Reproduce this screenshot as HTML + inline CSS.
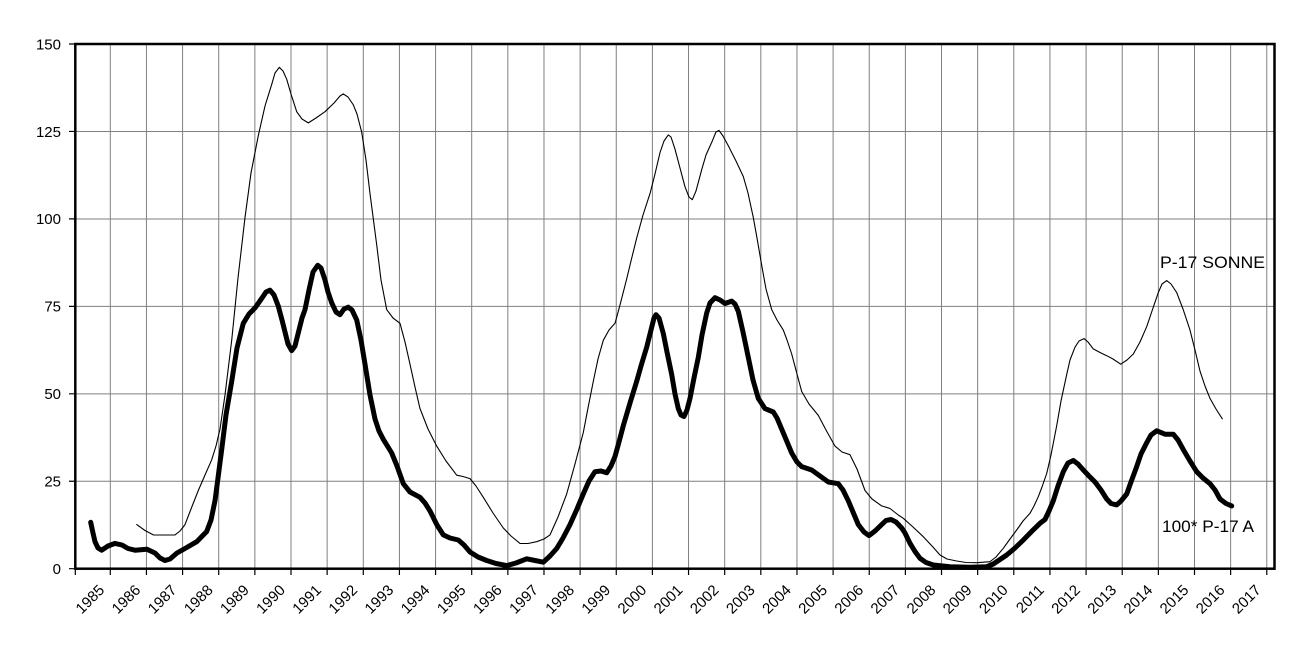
<!DOCTYPE html>
<html><head><meta charset="utf-8"><style>
html,body{margin:0;padding:0;background:#fff;}
svg{display:block;}
text{font-family:"Liberation Sans",Arial,sans-serif;fill:#000;}
</style></head><body>
<svg width="1294" height="663" viewBox="0 0 1294 663" xmlns="http://www.w3.org/2000/svg">
<rect x="0" y="0" width="1294" height="663" fill="#fff"/>
<line x1="109.8" y1="306.35" x2="1267.4" y2="306.35" stroke="#808080" stroke-width="524.7" stroke-dasharray="1 35.14"/>
<line x1="674.75" y1="131" x2="674.75" y2="482" stroke="#808080" stroke-width="1199.5" stroke-dasharray="1 86.45"/>
<polyline fill="none" stroke="#000" stroke-width="1.1" stroke-linejoin="round" stroke-linecap="round" points="136.7,524.6 145,530.5 153.3,534.9 165,535 175,534.9 180,531 185,524.6 191,509 198.3,490.5 205,475 211.7,459.8 216,446 220,429.1 225,395 231.7,340.3 238,278 245,217.5 251,173 258.3,135.6 265,106 271.7,84.4 275,73 279.3,67.3 283,71 286.7,79.2 291,94 296.7,111.7 302,119 308.3,122.9 316,118 325,111.7 334,103 340,96 343.3,93.9 348,97 353.3,104.8 357,114 361.7,132.2 366,160 370,193.6 376.7,244.8 381,280 386.7,309.6 393,318 400,323.3 405,342 410,364.2 415,387 420,408.6 428,429 436.7,446.1 446,461 456.7,475.2 463,476.5 470,478.6 476,486 483.3,497.3 493,513 503.3,528 511,536 520,543.4 528,543.5 536.7,541.7 544,539 550,534.9 558,517 566.7,493.9 575,464 583.3,432.5 588,408 593.3,381.3 598,359 603.3,340.3 609,330 615,323.3 620,305 626.7,278.9 631,261 636.7,238 643,215 650,193.6 655,174 660,152.6 664,141 668.3,134.9 671,137 675,149.2 680,168 685,186.8 689,197 692.3,199.7 696,191 701.7,169.7 706,155 711.7,142.4 716,132 719,130.4 723,136 728.3,145.8 736,161 743.3,176.5 748,193 753.3,217.5 757,238 761.7,265.3 766,289 771.7,309.6 777,320 783.3,330.1 787,340 791.7,354 797,374 801.7,391.5 809,404 818.3,415.4 826,430 835,446.1 842,452 850,454.7 857,469 865,490.5 872,499 881.7,505.9 890,508.5 898.3,515 903.3,518.3 913,527 923.3,536.7 932,546 940,555 947,559 956.7,561 966,562.5 976.7,562.7 990,561.7 996,557 1003.3,548.3 1010,539 1016.7,530 1023,521 1030,513.3 1034,506 1038.3,496.7 1042,487 1046.7,473.5 1051,455 1056.7,425.7 1061,401 1066.7,374.5 1070,360 1075,347.2 1079,341 1084,338.6 1088,342 1093.3,348.9 1100,352.5 1106.7,355.7 1113,359 1120.7,364.2 1127,360 1133.3,354 1140,342 1146.7,326.7 1152,311 1158.3,292.6 1162,284 1166.7,280.6 1171,284 1176.7,292.6 1183,309 1190,330.1 1195,350 1200,371.1 1205,386 1210,398.4 1216,409 1222.3,418.8"/>
<polyline fill="none" stroke="#000" stroke-width="5" stroke-linejoin="round" stroke-linecap="round" points="90.7,522.3 93,533 95,541.7 98,548 101.7,550.2 108,546 115,543.4 122,545 128,548.5 135,550.2 146.7,549.2 155,553 160,558 165,560.5 170,559 177,553 185,548.5 196.7,541.7 206.7,531.5 211,520 215,500.8 218,478 221.7,449.6 226,415 231.7,381.3 237,348 243.3,323.3 249,314 255,307.9 262,298 266,292 270,290.2 274,295 278.3,306.2 282,320 285,332 288,344 291.7,350.6 295,346 298,334 302,318 305,309.6 309,290 313,272 317.7,265.3 321,268 325,280 328,292 331.7,302.8 336,312 340,314.7 344,309 348.3,307.2 352,310 356.7,319.9 361,340 365,364.2 370,395 375,419 379,431 383.3,439.3 391.7,453 397,466 403.3,483.7 410,492 420,497.3 425,503 430,511 437,525 443.3,534.9 450,538 458.3,540 464,545 470,552 478,557 486.7,560.5 496,563.5 506.7,565.6 516,563 526.7,558.8 535,560.5 543.3,562.2 550,556 556.7,548.5 563,538 570,524.6 577,509 583.3,493.9 589,481 595,471.7 601,471 606.7,472.8 611,466 615,456.4 619,442 623.3,425.7 630,403 636.7,381.3 641,366 646.7,347.2 651,330 654,318 656,314.7 659,318 663.3,333.5 667,352 671.7,374.5 675,394 678.3,408.6 681,415 684,416.5 687,410 690,398.4 694,378 698.3,357.4 702,335 706.7,313 710,303 715,297.7 720,300 725,303.5 731.7,301.1 735,304 738.3,311.3 743,332 748.3,357.4 753,380 758.3,398.4 765,408.6 773.3,412 777,418 781.7,429.1 791.7,453 797,462 801.7,466.6 811.7,470 820,476 828.3,482 838.3,483.7 843,490 848.3,500.8 853,512 858.3,524.6 864,532 869,535.6 875,531 881.7,524.6 886,520.5 891,519.5 896,522 901.7,528 905,533 910,543.3 915,551.5 920,558.3 926,562.5 933.3,565 950,566.7 970,567.3 986.7,566.7 993.3,564 1000,559.5 1006.7,555 1015,548 1023.3,540 1033.3,529.8 1040,523.3 1045,519.5 1049,511 1053.3,500.8 1058,486 1063.3,471.7 1068,463 1073.3,460.5 1078,464 1083.3,470 1089,476 1095,482 1101,490 1106.7,499 1111,503.5 1116.7,504.9 1121,501 1126.7,494 1131,482 1136.7,466.6 1141,454 1146.7,442.7 1151,435 1156.7,430.8 1165,434.2 1173.3,434.2 1178,440 1183.3,449.6 1190,461 1196.7,471.7 1203,478 1210,483.7 1215,490 1220,499 1226,503.5 1231.7,505.9"/>
<rect x="75.3" y="44" width="1199.2" height="524.7" fill="none" stroke="#000" stroke-width="2.5"/>
<line x1="72" y1="43.4" x2="72" y2="569.5" stroke="#000" stroke-width="6" stroke-dasharray="1.2 86.25"/>
<line x1="109.7" y1="571.85" x2="1267.5" y2="571.85" stroke="#000" stroke-width="6.3" stroke-dasharray="1.2 34.94"/>
<line x1="75.3" y1="568.7" x2="75.3" y2="575" stroke="#000" stroke-width="1.2"/>
<g font-size="15" text-anchor="end">
<text x="61" y="49.3">150</text>
<text x="61" y="136.8">125</text>
<text x="61" y="224.2">100</text>
<text x="61" y="311.7">75</text>
<text x="61" y="399.1">50</text>
<text x="61" y="486.6">25</text>
<text x="61" y="574">0</text>
</g>
<g font-size="15" text-anchor="end">
<text x="105.3" y="591" transform="rotate(-45 105.3 591)">1985</text>
<text x="141.44" y="591" transform="rotate(-45 141.44 591)">1986</text>
<text x="177.58" y="591" transform="rotate(-45 177.58 591)">1987</text>
<text x="213.72" y="591" transform="rotate(-45 213.72 591)">1988</text>
<text x="249.86" y="591" transform="rotate(-45 249.86 591)">1989</text>
<text x="286" y="591" transform="rotate(-45 286 591)">1990</text>
<text x="322.14" y="591" transform="rotate(-45 322.14 591)">1991</text>
<text x="358.28" y="591" transform="rotate(-45 358.28 591)">1992</text>
<text x="394.42" y="591" transform="rotate(-45 394.42 591)">1993</text>
<text x="430.56" y="591" transform="rotate(-45 430.56 591)">1994</text>
<text x="466.7" y="591" transform="rotate(-45 466.7 591)">1995</text>
<text x="502.84" y="591" transform="rotate(-45 502.84 591)">1996</text>
<text x="538.98" y="591" transform="rotate(-45 538.98 591)">1997</text>
<text x="575.12" y="591" transform="rotate(-45 575.12 591)">1998</text>
<text x="611.26" y="591" transform="rotate(-45 611.26 591)">1999</text>
<text x="647.4" y="591" transform="rotate(-45 647.4 591)">2000</text>
<text x="683.54" y="591" transform="rotate(-45 683.54 591)">2001</text>
<text x="719.68" y="591" transform="rotate(-45 719.68 591)">2002</text>
<text x="755.82" y="591" transform="rotate(-45 755.82 591)">2003</text>
<text x="791.96" y="591" transform="rotate(-45 791.96 591)">2004</text>
<text x="828.1" y="591" transform="rotate(-45 828.1 591)">2005</text>
<text x="864.24" y="591" transform="rotate(-45 864.24 591)">2006</text>
<text x="900.38" y="591" transform="rotate(-45 900.38 591)">2007</text>
<text x="936.52" y="591" transform="rotate(-45 936.52 591)">2008</text>
<text x="972.66" y="591" transform="rotate(-45 972.66 591)">2009</text>
<text x="1008.8" y="591" transform="rotate(-45 1008.8 591)">2010</text>
<text x="1044.94" y="591" transform="rotate(-45 1044.94 591)">2011</text>
<text x="1081.08" y="591" transform="rotate(-45 1081.08 591)">2012</text>
<text x="1117.22" y="591" transform="rotate(-45 1117.22 591)">2013</text>
<text x="1153.36" y="591" transform="rotate(-45 1153.36 591)">2014</text>
<text x="1189.5" y="591" transform="rotate(-45 1189.5 591)">2015</text>
<text x="1225.64" y="591" transform="rotate(-45 1225.64 591)">2016</text>
<text x="1261.78" y="591" transform="rotate(-45 1261.78 591)">2017</text>
</g>
<text x="1160" y="268" font-size="17" textLength="105" lengthAdjust="spacingAndGlyphs">P-17 SONNE</text>
<text x="1162" y="532" font-size="17" textLength="92" lengthAdjust="spacingAndGlyphs">100* P-17 A</text>
</svg>
</body></html>
